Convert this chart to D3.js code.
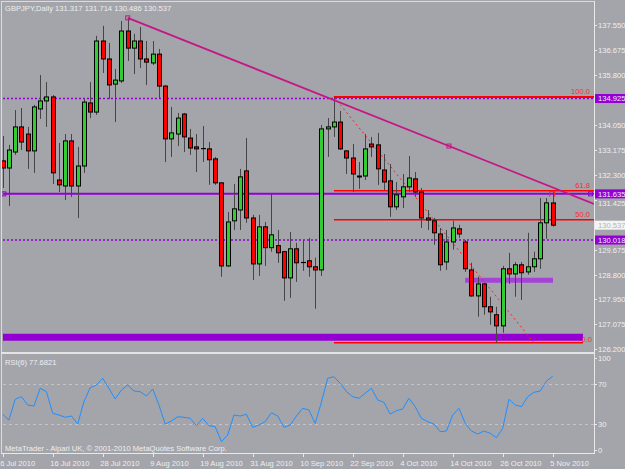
<!DOCTYPE html>
<html><head><meta charset="utf-8">
<script src="https://cdn.jsdelivr.net/npm/d3@7"></script>
<style>
body{margin:0;background:#a4a4ab;}
svg{display:block;}
text{font-family:"Liberation Sans",Arial,sans-serif;font-size:7.6px;fill:#efefef;}
</style></head><body>
<svg id="c" width="625" height="469"></svg>
<script>
// ---- data ----
const title = "GBPJPY,Daily  131.317 131.714 130.486 130.537";
const opens = [132.79,132.54,133.10,133.98,133.73,133.14,134.61,134.89,135.03,132.12,
131.91,133.49,131.91,132.61,134.82,134.50,136.99,136.36,135.48,135.59,
137.34,136.74,136.99,136.36,136.22,136.53,135.41,133.56,133.73,134.43,
133.59,133.28,133.21,133.21,132.86,132.02,129.11,130.69,131.07,132.44,
130.79,129.18,130.48,129.75,129.82,129.61,128.69,129.71,129.22,129.29,
129.08,128.97,133.91,133.98,134.15,133.14,132.89,132.26,132.26,133.38,
133.35,132.47,132.09,131.18,131.53,131.88,132.16,131.70,130.79,130.69,
130.23,129.25,129.95,130.41,129.95,128.97,128.06,128.48,127.68,127.40,
127.01,129.01,128.83,129.15,128.90,129.08,129.36,130.62,131.317];
const highs = [133.66,133.35,134.57,134.64,133.98,134.75,135.80,135.55,135.10,133.42,
133.73,133.73,133.28,134.96,135.55,137.17,137.52,136.92,136.01,137.69,
137.80,137.24,137.48,136.99,136.99,136.71,135.45,134.68,134.47,134.47,
133.91,133.73,134.01,133.45,132.93,132.05,131.00,131.98,132.51,133.59,
130.90,130.90,130.65,131.63,130.37,129.64,130.30,129.92,130.02,130.09,
129.40,134.05,134.29,135.03,134.54,133.16,133.38,132.75,133.73,133.63,
133.77,133.03,132.68,132.05,132.33,132.96,132.40,131.84,131.07,130.79,
130.44,130.37,130.69,130.55,130.02,129.22,128.73,128.52,128.03,127.68,
129.11,129.57,129.25,129.25,130.27,129.61,131.49,131.49,131.714];
const lows = [131.84,131.21,133.00,133.17,132.51,132.37,134.26,133.98,131.98,131.70,
131.42,131.53,130.79,132.37,134.29,134.40,135.87,134.96,134.15,135.52,
136.29,135.83,136.04,135.45,136.15,134.96,132.75,132.93,133.31,133.10,
133.00,132.40,132.75,131.95,131.95,128.73,129.08,130.37,130.37,130.62,
128.62,128.76,129.11,129.61,129.22,127.89,127.99,128.55,128.94,128.73,
127.61,128.76,132.93,133.63,133.17,132.33,131.70,131.81,132.12,132.93,
131.95,131.77,130.83,131.07,131.14,131.70,131.53,130.44,130.37,129.85,
128.94,128.97,129.68,130.09,128.90,128.03,127.33,127.40,127.05,126.42,
126.77,128.48,128.03,127.92,128.80,128.90,129.01,130.06,130.486];
const closes = [132.54,133.17,133.98,133.45,133.14,134.68,134.89,135.03,132.37,131.95,
133.49,131.91,132.61,134.85,134.50,136.99,136.36,135.45,135.62,137.34,
136.74,136.99,136.36,136.25,136.53,135.41,133.56,133.77,134.29,133.63,
133.24,133.21,133.22,132.83,132.02,129.11,130.65,131.11,132.23,130.79,
129.18,130.48,129.75,130.20,129.57,128.69,129.71,129.22,129.23,129.08,
128.97,133.91,133.98,134.15,133.21,132.89,132.33,132.23,133.21,133.28,
132.51,132.05,131.18,131.60,131.88,132.19,131.70,130.79,130.72,130.27,
129.15,129.95,130.44,130.23,129.01,128.06,128.48,127.68,127.50,127.01,
129.01,128.83,129.15,128.87,129.08,129.36,130.62,131.32,130.537];
const rsiValues = [39.7,34,54.7,57.3,49,48,65.7,62.3,40.7,39,
36.7,38,30,52.3,66.3,69,75.7,65.7,55,64,
69,63,62.3,58,65,49,30,33,37.3,36.7,
35.7,28.3,35.7,28.3,27.3,12.3,19,39,38,39.7,
26.7,29,32.3,41.3,38,26.7,29,38,45.7,44,
30.5,52,75.7,77.3,70.7,62.3,57.3,55.7,60.7,65.7,
54,51.7,40,43.3,45,55.7,47.3,35.7,32.3,30,
22.3,23,39,45.7,30.7,23,20,23,20.7,16.3,
25.7,54.7,49,47.3,57.3,61.7,63,73,77.68];
const dateLabels = ["6 Jul 2010","16 Jul 2010","28 Jul 2010","9 Aug 2010","19 Aug 2010","31 Aug 2010","10 Sep 2010","22 Sep 2010","4 Oct 2010","14 Oct 2010","26 Oct 2010","5 Nov 2010"];
const dateBars = [0,8,16,24,32,40,48,56,64,72,80,88];
// tick labels not hidden behind an axis box
const priceTickLabels = ["137.550","136.675","135.800","134.050","133.175","132.300","129.675","128.800","127.950","127.075","126.200"];
const partlyHiddenTick = "131.425";
const rsiTickLabels = ["100","70","30","0"];
const rsiLevels = [70,30];
const trendPoints = [{bar:20,price:137.80},{bar:71.4,price:133.31}];
const hSolid = 131.635;
const hDashed = [134.975,130.018];
const thickBar = 126.61;
const shortBar = {from:74,to:88,price:128.61};
const fibFrom = {bar:53,price:135.03};
const fibTo = {bar:85,price:126.42};
const fibLevels = [0,50,61.8,100];
const axisBoxes = [{price:134.975,text:"134.925",fill:"#9400d3",color:"#f0e8f8"},
                   {price:131.635,text:"131.635",fill:"#9400d3",color:"#f0e8f8"},
                   {price:130.537,text:"130.537",fill:"#f4f4f4",color:"#b4b4b4"},
                   {price:130.018,text:"130.018",fill:"#9400d3",color:"#f0e8f8"}];
const rsiTitle = "RSI(6) 77.6821";
const copyright = "MetaTrader - Alpari UK, © 2001-2010 MetaQuotes Software Corp.";

// ---- drawing ----
const svg = d3.select("#c");
const W=625, H=469, axisX=594;
const x = d3.scaleLinear().domain([0,88]).range([2.7,552.7]);
const y = d3.scaleLinear().domain([126.2,137.55]).range([349,25]);
const yr = d3.scaleLinear().domain([0,100]).range([454,354]);
const n = opens.length;
const bars = d3.range(n).map(i=>({i,o:opens[i],h:highs[i],l:lows[i],c:closes[i]}));

svg.append("rect").attr("width",W).attr("height",H).attr("fill","#a4a4ab");
svg.append("defs").append("clipPath").attr("id","mainclip").append("rect")
  .attr("x",2).attr("y",2).attr("width",axisX-2).attr("height",350);

const main = svg.append("g").attr("clip-path","url(#mainclip)");

// horizontal objects
main.append("line").attr("x1",3).attr("x2",583).attr("y1",y(thickBar)).attr("y2",y(thickBar))
  .attr("stroke","#9400d3").attr("stroke-width",7);
main.append("line").attr("x1",x(shortBar.from)).attr("x2",x(shortBar.to)+0.3)
  .attr("y1",y(shortBar.price)).attr("y2",y(shortBar.price))
  .attr("stroke","#a443d6").attr("stroke-width",5);
main.selectAll("line.hd").data(hDashed).join("line").attr("class","hd")
  .attr("x1",3).attr("x2",axisX).attr("y1",d=>y(d)).attr("y2",d=>y(d))
  .attr("stroke","#9400d3").attr("stroke-width",1.6).attr("stroke-dasharray","2,2");
main.append("line").attr("x1",3).attr("x2",axisX).attr("y1",y(hSolid)).attr("y2",y(hSolid))
  .attr("stroke","#9400d3").attr("stroke-width",2);

// fibonacci
const fibY = lv => y(fibTo.price + (fibFrom.price-fibTo.price)*lv/100);
main.selectAll("line.fib").data(fibLevels).join("line").attr("class","fib")
  .attr("x1",x(fibFrom.bar)).attr("x2",d=>d===0?583:axisX)
  .attr("y1",fibY).attr("y2",fibY)
  .attr("stroke","#ff0000").attr("stroke-width",d=>d===100?2:1.5);
main.append("line").attr("x1",x(fibFrom.bar)).attr("y1",y(fibFrom.price))
  .attr("x2",x(fibTo.bar)).attr("y2",y(fibTo.price))
  .attr("stroke","#ff2020").attr("stroke-width",1).attr("stroke-dasharray","2,3");
main.selectAll("text.fib").data(fibLevels).join("text").attr("class","fib")
  .attr("x",d=>d===0?592:590).attr("y",d=>d===0?fibY(d)-1:fibY(d)-2.5)
  .attr("text-anchor","end").style("fill","#ff2a2a").text(d=>d.toFixed(1));

// candles
const cg = main.append("g");
cg.selectAll("line.w").data(bars).join("line").attr("class","w")
  .attr("x1",d=>Math.round(x(d.i))+0.5).attr("x2",d=>Math.round(x(d.i))+0.5)
  .attr("y1",d=>y(d.h)).attr("y2",d=>y(d.l)).attr("stroke","#454545").attr("stroke-width",1);
cg.selectAll("rect.b").data(bars.filter(d=>Math.abs(d.o-d.c)>0.02)).join("rect").attr("class","b")
  .attr("x",d=>Math.round(x(d.i))-1.5).attr("width",4)
  .attr("y",d=>y(Math.max(d.o,d.c))).attr("height",d=>Math.max(1,Math.abs(y(d.o)-y(d.c))))
  .attr("fill",d=>d.c>d.o?"#32cd32":"#ff0000").attr("stroke","#000").attr("stroke-width",1);
cg.selectAll("line.dj").data(bars.filter(d=>Math.abs(d.o-d.c)<=0.02)).join("line").attr("class","dj")
  .attr("x1",d=>Math.round(x(d.i))-2).attr("x2",d=>Math.round(x(d.i))+3)
  .attr("y1",d=>y(d.c)).attr("y2",d=>y(d.c)).attr("stroke","#000").attr("stroke-width",1.2);

// trend line
const slope = (trendPoints[1].price-trendPoints[0].price)/(trendPoints[1].bar-trendPoints[0].bar);
const endBar = x.invert(axisX);
main.append("line").attr("x1",x(trendPoints[0].bar)).attr("y1",y(trendPoints[0].price))
  .attr("x2",x(endBar)).attr("y2",y(trendPoints[0].price+slope*(endBar-trendPoints[0].bar)))
  .attr("stroke","#c71585").attr("stroke-width",1.8);
main.selectAll("rect.tp").data(trendPoints).join("rect").attr("class","tp")
  .attr("x",d=>x(d.bar)-2).attr("y",d=>y(d.price)-2).attr("width",4).attr("height",4)
  .attr("fill","none").attr("stroke","#c71585").attr("stroke-width",1);
// hline markers
main.selectAll("rect.hm").data([3.8,590.5]).join("rect").attr("class","hm")
  .attr("x",d=>d-2).attr("y",y(hSolid)-2).attr("width",4).attr("height",4)
  .attr("fill","none").attr("stroke","#9400d3").attr("stroke-width",1);
// small high marker on last bar
main.append("path").attr("d",`M${x(88)-3},${y(highs[88])+5}V${y(highs[88])}H${x(88)+2}V${y(highs[88])+5}`)
  .attr("fill","none").attr("stroke","#ff2020").attr("stroke-width",1);

// frame
svg.append("line").attr("x1",2).attr("x2",axisX).attr("y1",1.5).attr("y2",1.5).attr("stroke","#dcdcdc");
svg.append("line").attr("x1",1.5).attr("x2",1.5).attr("y1",1).attr("y2",454).attr("stroke","#dcdcdc");
svg.append("line").attr("x1",axisX+0.5).attr("x2",axisX+0.5).attr("y1",1).attr("y2",454).attr("stroke","#e8e8e8");
svg.append("rect").attr("x",1).attr("y",352).attr("width",axisX).attr("height",2).attr("fill","#e4e4e4");
svg.append("line").attr("x1",1).attr("x2",axisX+1).attr("y1",453.5).attr("y2",453.5).attr("stroke","#e8e8e8");

// price axis
const pt = svg.append("g");
pt.selectAll("line").data(priceTickLabels.concat([partlyHiddenTick])).join("line")
  .attr("x1",axisX).attr("x2",axisX+3).attr("y1",d=>Math.round(y(+d))+0.5).attr("y2",d=>Math.round(y(+d))+0.5)
  .attr("stroke","#e8e8e8");
pt.selectAll("text").data(priceTickLabels).join("text")
  .attr("x",axisX+4).attr("y",d=>y(+d)+2.8).text(d=>d);
const ab = svg.append("g");
ab.selectAll("rect").data(axisBoxes).join("rect")
  .attr("x",axisX+1).attr("y",d=>y(d.price)-4.5).attr("width",W-axisX-1).attr("height",9).attr("fill",d=>d.fill);
ab.selectAll("text").data(axisBoxes).join("text")
  .attr("x",axisX+4).attr("y",d=>y(d.price)+2.8).style("fill",d=>d.color).text(d=>d.text);
// tick label peeking out just below the purple box
svg.append("text").attr("x",axisX+4).attr("y",y(+partlyHiddenTick)+6.2).text(partlyHiddenTick);

// RSI panel
const rg = svg.append("g");
rg.selectAll("line.lv").data(rsiLevels).join("line").attr("class","lv")
  .attr("x1",3).attr("x2",axisX).attr("y1",d=>yr(d)+0.5).attr("y2",d=>yr(d)+0.5)
  .attr("stroke","#c4c4c8").attr("stroke-dasharray","3,3");
rg.append("path").datum(rsiValues)
  .attr("d",d3.line().x((d,i)=>x(i)).y(d=>yr(d)))
  .attr("fill","none").attr("stroke","#1e90ff").attr("stroke-width",1);
const rsiTickY = v => Math.min(Math.max(yr(v),358),450);
rg.selectAll("line.rt").data(rsiTickLabels).join("line").attr("class","rt")
  .attr("x1",axisX).attr("x2",axisX+3).attr("y1",d=>rsiTickY(+d)+0.5).attr("y2",d=>rsiTickY(+d)+0.5).attr("stroke","#e8e8e8");
rg.selectAll("text.rt").data(rsiTickLabels).join("text").attr("class","rt")
  .attr("x",axisX+4).attr("y",d=>rsiTickY(+d)+2.8).text(d=>d);

// date axis
const dg = svg.append("g");
dg.selectAll("line").data(dateBars).join("line")
  .attr("x1",d=>Math.round(x(d))+0.5).attr("x2",d=>Math.round(x(d))+0.5).attr("y1",453).attr("y2",457).attr("stroke","#e8e8e8");
dg.selectAll("text").data(dateLabels).join("text")
  .attr("x",(d,i)=>x(dateBars[i])-2.5).attr("y",466).text(d=>d);

// texts
svg.append("text").attr("x",5).attr("y",10.5).text(title);
svg.append("text").attr("x",5).attr("y",364.5).text(rsiTitle);
svg.append("text").attr("x",5).attr("y",451).text(copyright);
</script></body></html>
